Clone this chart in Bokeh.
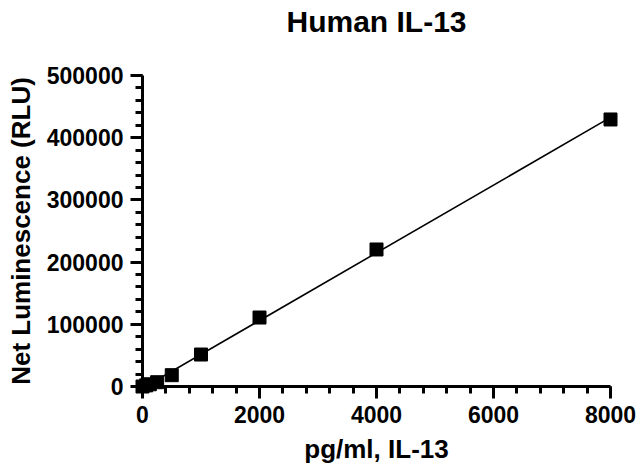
import numpy as np
from bokeh.plotting import figure
from bokeh.models import Range1d, FixedTicker, BasicTickFormatter
from bokeh.embed import file_html
from bokeh.resources import INLINE

# ---- data ----
conc = [0, 62.5, 125, 250, 500, 1000, 2000, 4000, 8000]          # pg/ml IL-13
rlu = [0, 1800, 3600, 6900, 18200, 51400, 110900, 220300, 429300]  # net luminescence
x_ticks = [0, 2000, 4000, 6000, 8000]
y_ticks = [0, 100000, 200000, 300000, 400000, 500000]
x_minor = [v for v in range(0, 8001, 400)]
y_minor = [v for v in range(0, 500001, 20000)]

title_text = "Human IL-13"
x_label = "pg/ml, IL-13"
y_label = "Net Luminescence (RLU)"

FONT = "Liberation Sans"

# linear fit through the standards
slope, intercept = np.polyfit(np.array(conc), np.array(rlu), 1)
fit_x = [min(conc), max(conc)]
fit_y = [slope * v + intercept for v in fit_x]

p = figure(width=639, height=468, output_backend="svg", toolbar_location=None,
           x_range=Range1d(0, 8000), y_range=Range1d(0, 500000),
           min_border_left=142, min_border_right=29, min_border_top=75,
           min_border_bottom=82)

p.title.text = title_text
p.title.align = "center"
p.title.vertical_align = "top"
p.title.standoff = 6
p.title.padding = dict(left=0, right=0, top=0, bottom=33)
p.title.text_font = FONT
p.title.text_font_size = "30px"
p.title.text_font_style = "bold"
p.title.text_color = "black"

p.outline_line_color = None
p.grid.visible = False
p.background_fill_color = "white"
p.border_fill_color = "white"

p.xaxis.axis_label = x_label
p.yaxis.axis_label = y_label
p.xaxis.ticker = FixedTicker(ticks=x_ticks, minor_ticks=x_minor)
p.yaxis.ticker = FixedTicker(ticks=y_ticks, minor_ticks=y_minor)

for ax in (p.xaxis[0], p.yaxis[0]):
    ax.formatter = BasicTickFormatter(use_scientific=False)
    ax.axis_line_color = "black"
    ax.axis_line_width = 3
    ax.major_tick_line_color = "black"
    ax.minor_tick_line_color = "black"
    ax.major_tick_line_width = 3
    ax.minor_tick_line_width = 3
    ax.major_tick_in = 0
    ax.major_tick_out = 12
    ax.minor_tick_in = 0
    ax.minor_tick_out = 7
    ax.major_label_text_font = FONT
    ax.major_label_text_font_size = "23px"
    ax.major_label_text_font_style = "bold"
    ax.major_label_text_color = "black"
    ax.axis_label_text_font = FONT
    ax.axis_label_text_font_size = "26px"
    ax.axis_label_text_font_style = "bold"
    ax.axis_label_text_color = "black"

p.xaxis.major_label_standoff = 7
p.xaxis.axis_label_standoff = 8
p.yaxis.major_label_standoff = 7
p.yaxis.axis_label_standoff = 8

p.line(fit_x, fit_y, line_color="black", line_width=1.6)
p.scatter(conc, rlu, marker="square", size=13, fill_color="black",
          line_color="black", level="overlay")

open("out.html", "w").write(file_html(p, INLINE))
